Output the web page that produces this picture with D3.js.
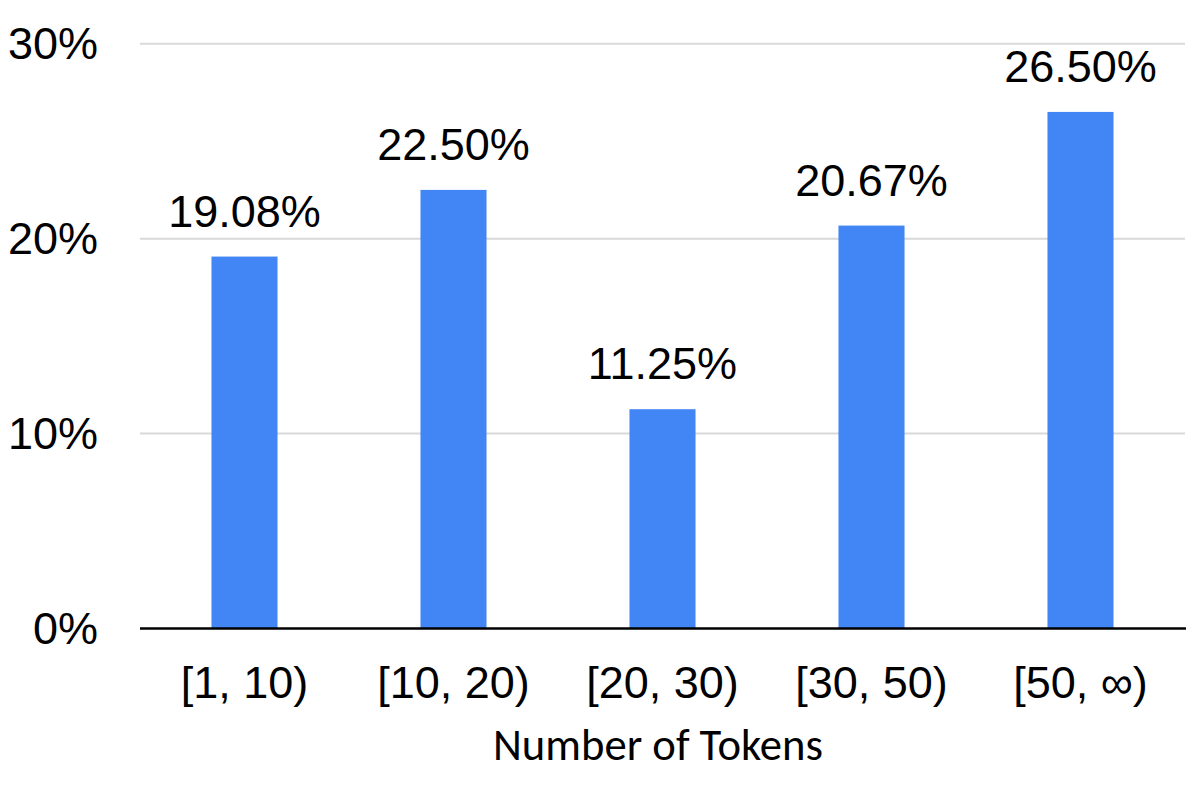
<!DOCTYPE html>
<html><head><meta charset="utf-8">
<script src="https://cdn.jsdelivr.net/npm/d3@7"></script>
<style>html,body{margin:0;padding:0;background:#fff;}</style>
</head><body>
<svg id="chart" width="1191" height="792"></svg>
<script>
const categories = ["[1, 10)", "[10, 20)", "[20, 30)", "[30, 50)", "[50, ∞)"];
const values = [19.08, 22.50, 11.25, 20.67, 26.50];
const valueLabels = ["19.08%", "22.50%", "11.25%", "20.67%", "26.50%"];
const yTicks = [0, 10, 20, 30];
const yTickLabels = ["0%", "10%", "20%", "30%"];
const xTitle = "Number of Tokens";

(function () {
const svg = d3.select("#chart");
const plotLeft = 140, plotRight = 1185, plotTop = 43.7, plotBottom = 628.5;
const font = "'Liberation Sans', Arial, sans-serif";

const x = d3.scaleBand().domain(categories).range([plotLeft, plotRight])
  .paddingInner(0.684).paddingOuter(0.342);
const y = d3.scaleLinear().domain([0, 30]).range([plotBottom, plotTop]);

// gridlines
svg.append("g").selectAll("line").data(yTicks.filter(d => d > 0)).join("line")
  .attr("x1", plotLeft).attr("x2", plotRight)
  .attr("y1", d => y(d)).attr("y2", d => y(d))
  .attr("stroke", "#d9d9d9").attr("stroke-width", 2);

// y tick labels
svg.append("g").selectAll("text").data(yTicks).join("text")
  .attr("x", 98).attr("y", d => y(d) + 15.5)
  .attr("text-anchor", "end")
  .attr("font-family", font).attr("font-size", 45).attr("fill", "#000")
  .text((d, i) => yTickLabels[i]);

// bars
svg.append("g").selectAll("rect").data(values).join("rect")
  .attr("x", (d, i) => x(categories[i]))
  .attr("width", x.bandwidth())
  .attr("y", d => y(d))
  .attr("height", d => y(0) - y(d))
  .attr("fill", "#4285f4");

// value labels
svg.append("g").selectAll("text").data(values).join("text")
  .attr("x", (d, i) => x(categories[i]) + x.bandwidth() / 2)
  .attr("y", d => y(d) - 30)
  .attr("text-anchor", "middle")
  .attr("font-family", font).attr("font-size", 45).attr("fill", "#000")
  .text((d, i) => valueLabels[i]);

// x axis line
svg.append("line").attr("x1", plotLeft).attr("x2", plotRight + 1)
  .attr("y1", plotBottom).attr("y2", plotBottom)
  .attr("stroke", "#000").attr("stroke-width", 2.5);

// category labels
svg.append("g").selectAll("text").data(categories).join("text")
  .attr("x", d => x(d) + x.bandwidth() / 2)
  .attr("y", 698)
  .attr("text-anchor", "middle")
  .attr("font-family", font).attr("font-size", 45).attr("fill", "#000")
  .text(d => d);

// axis title
svg.append("text")
  .attr("x", 658).attr("y", 760)
  .attr("text-anchor", "middle")
  .attr("font-family", "Carlito, Lato, 'Open Sans', sans-serif")
  .attr("font-size", 45).attr("fill", "#000")
  .attr("textLength", 330).attr("lengthAdjust", "spacingAndGlyphs")
  .text(xTitle);
})();
</script>
</body></html>
